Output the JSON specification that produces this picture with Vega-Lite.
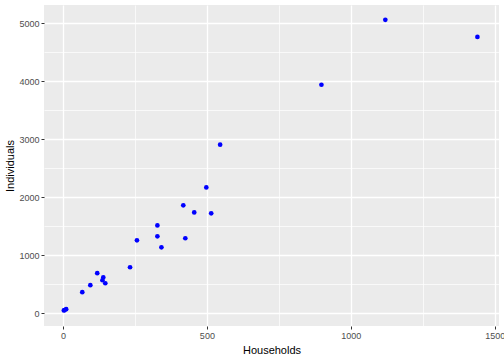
{
  "$schema": "https://vega.github.io/schema/vega-lite/v6.json",
  "autosize": "none",
  "width": 455,
  "height": 321,
  "padding": {"left": 44, "top": 5, "right": 5, "bottom": 34},
  "background": "white",
  "config": {
    "view": {"fill": "#EBEBEB", "stroke": null},
    "font": "Liberation Sans",
    "axis": {
      "domain": false,
      "gridColor": "white",
      "tickColor": "#333333",
      "tickSize": 3,
      "labelColor": "#4D4D4D",
      "labelFontSize": 9,
      "labelFlush": false,
      "titleFontSize": 11,
      "titleFontWeight": "normal",
      "titleColor": "black"
    }
  },
  "data": {"values": [
    {"Households": 1120, "Individuals": 5060},
    {"Households": 1440, "Individuals": 4765},
    {"Households": 898, "Individuals": 3940},
    {"Households": 546, "Individuals": 2905},
    {"Households": 498, "Individuals": 2168},
    {"Households": 418, "Individuals": 1858},
    {"Households": 456, "Individuals": 1737},
    {"Households": 515, "Individuals": 1720},
    {"Households": 328, "Individuals": 1512},
    {"Households": 328, "Individuals": 1324},
    {"Households": 425, "Individuals": 1290},
    {"Households": 257, "Individuals": 1255},
    {"Households": 342, "Individuals": 1134},
    {"Households": 233, "Individuals": 790},
    {"Households": 119, "Individuals": 687},
    {"Households": 140, "Individuals": 615},
    {"Households": 137, "Individuals": 566},
    {"Households": 147, "Individuals": 514},
    {"Households": 95, "Individuals": 480},
    {"Households": 67, "Individuals": 359},
    {"Households": 3, "Individuals": 45},
    {"Households": 6, "Individuals": 50},
    {"Households": 11, "Individuals": 66}
  ]},
  "layer": [
    {
      "mark": {"type": "point", "opacity": 0},
      "encoding": {
        "x": {"field": "Households", "type": "quantitative",
              "scale": {"domain": [-66, 1515], "nice": false, "zero": false},
              "axis": {"orient": "top", "values": [250, 750, 1250], "grid": true, "gridWidth": 0.7,
                       "labels": false, "ticks": false, "title": null}},
        "y": {"field": "Individuals", "type": "quantitative",
              "scale": {"domain": [-224, 5316], "nice": false, "zero": false},
              "axis": {"orient": "right", "values": [500, 1500, 2500, 3500, 4500], "grid": true, "gridWidth": 0.7,
                       "labels": false, "ticks": false, "title": null}}
      }
    },
    {
      "mark": {"type": "point", "filled": true, "color": "blue", "opacity": 1, "size": 22},
      "encoding": {
        "x": {"field": "Households", "type": "quantitative",
              "axis": {"orient": "bottom", "values": [0, 500, 1000, 1500], "format": "d", "grid": true, "gridWidth": 1.3,
                       "title": "Households", "labelPadding": 2, "titlePadding": 4}},
        "y": {"field": "Individuals", "type": "quantitative",
              "axis": {"orient": "left", "values": [0, 1000, 2000, 3000, 4000, 5000], "format": "d", "grid": true, "gridWidth": 1.3,
                       "title": "Individuals", "labelPadding": 2, "titlePadding": 3}}
      }
    }
  ],
  "resolve": {"axis": {"x": "independent", "y": "independent"}}
}
